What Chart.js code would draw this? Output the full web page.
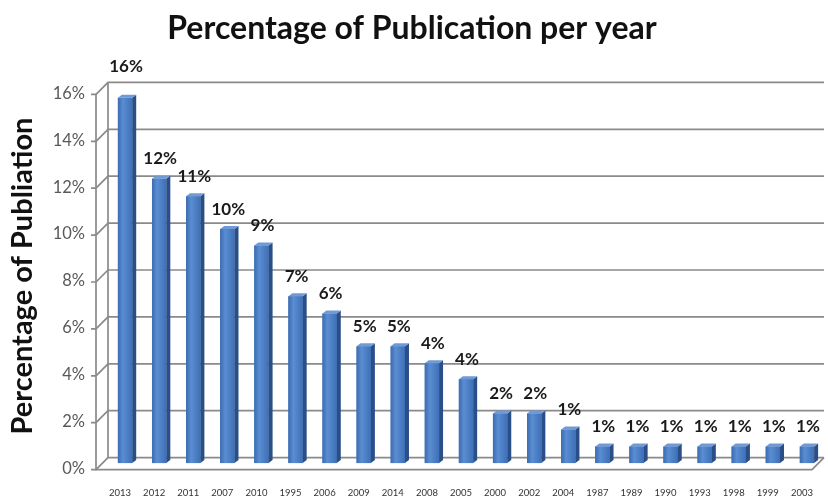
<!DOCTYPE html>
<html>
<head>
<meta charset="utf-8">
<script src="https://cdn.jsdelivr.net/npm/chart.js@4.4.1/dist/chart.umd.min.js"></script>
<style>
  html, body { margin: 0; padding: 0; background: #ffffff; }
  #wrap { width: 828px; height: 503px; }
</style>
</head>
<body>
<div id="wrap"><canvas id="pubChart" width="828" height="503"></canvas></div>
<script>
// Publication years, ordered by share of publications
const years = ['2013','2012','2011','2007','2010','1995','2006','2009','2014','2008','2005',
               '2000','2002','2004','1987','1989','1990','1993','1998','1999','2003'];
// Share of publications per year (%)
const shares = [15.6, 12.15, 11.4, 10.0, 9.3, 7.14, 6.4, 5.0, 5.0, 4.28, 3.6,
                2.14, 2.14, 1.45, 0.73, 0.73, 0.73, 0.73, 0.73, 0.73, 0.73];
// Value axis ticks (%)
const yTicks = [0, 2, 4, 6, 8, 10, 12, 14, 16];

const DEPTH_X = 12;   // perspective depth of the box walls
const DEPTH_Y = 6;

// Back walls, floor and slanted ticks of the 3-D box
const boxPlugin = {
  id: 'box3d',
  beforeDatasetsDraw(chart) {
    const { ctx, chartArea: a, scales: { y } } = chart;
    ctx.save();
    ctx.strokeStyle = '#8a8a8a';
    ctx.lineWidth = 1.7;
    const L = a.left, R = a.right;
    yTicks.forEach(v => {
      const py = y.getPixelForValue(v);
      ctx.beginPath();
      ctx.moveTo(L - DEPTH_X - 5, py + DEPTH_Y);
      ctx.lineTo(L - DEPTH_X, py + DEPTH_Y);
      ctx.lineTo(L, py - DEPTH_Y);
      ctx.lineTo(R, py - DEPTH_Y);
      ctx.stroke();
    });
    const top = y.getPixelForValue(16), base = y.getPixelForValue(0);
    ctx.beginPath();
    ctx.moveTo(L, top - DEPTH_Y); ctx.lineTo(L, base - DEPTH_Y);
    ctx.moveTo(L - DEPTH_X, top + DEPTH_Y); ctx.lineTo(L - DEPTH_X, base + DEPTH_Y);
    ctx.lineTo(R - DEPTH_X, base + DEPTH_Y); ctx.lineTo(R, base - DEPTH_Y);
    ctx.stroke();
    ctx.restore();
  }
};

// Shaded faces of the bars and their value labels
const barFacesPlugin = {
  id: 'barFaces',
  afterDatasetsDraw(chart) {
    const { ctx, chartArea: a } = chart;
    const meta = chart.getDatasetMeta(0);
    ctx.save();
    meta.data.forEach((bar, i) => {
      const { x, y, base, width } = bar.getProps(['x', 'y', 'base', 'width'], true);
      const l = x - width / 2, r = x + width / 2, d = 4, dy = 3;
      const g = ctx.createLinearGradient(l, 0, r, 0);
      g.addColorStop(0, '#3c6bb0');
      g.addColorStop(0.35, '#5a8dd2');
      g.addColorStop(1, '#3f70b7');
      ctx.fillStyle = g;
      ctx.fillRect(l, y, width, base - y);
      // right side face
      ctx.fillStyle = '#2a4f88';
      ctx.beginPath();
      ctx.moveTo(r, y); ctx.lineTo(r + d, y - dy); ctx.lineTo(r + d, base - dy); ctx.lineTo(r, base);
      ctx.closePath(); ctx.fill();
      // top face
      ctx.fillStyle = '#6f9ad6';
      ctx.beginPath();
      ctx.moveTo(l, y); ctx.lineTo(l + d, y - dy); ctx.lineTo(r + d, y - dy); ctx.lineTo(r, y);
      ctx.closePath(); ctx.fill();

      // value label, lifted above the box when the bar reaches its top
      const text = Math.round(shares[i]) + '%';
      const ly = (y - 20 < a.top) ? a.top - 22 : y - 20;
      ctx.fillStyle = '#1a1a1a';
      ctx.font = 'bold 17px Lato';
      ctx.textAlign = 'center';
      ctx.textBaseline = 'middle';
      ctx.fillText(text, x + 1, ly);
    });
    ctx.restore();
  }
};

// Invisible tick marks are used to space the tick labels away from the box
const hiddenTicks = len => ({
  display: true,
  drawOnChartArea: false,
  drawTicks: true,
  tickLength: len,
  color: 'rgba(0,0,0,0)'
});

new Chart(document.getElementById('pubChart'), {
  type: 'bar',
  data: {
    labels: years,
    datasets: [{
      data: shares,
      backgroundColor: '#4477bb',
      borderWidth: 0,
      barPercentage: 0.42,
      categoryPercentage: 1.0
    }]
  },
  options: {
    responsive: false,
    animation: false,
    layout: { padding: { left: 0, right: 4, top: 0, bottom: 4 } },
    plugins: {
      legend: { display: false },
      tooltip: { enabled: false },
      title: {
        display: true,
        text: 'Percentage of Publication per year',
        color: '#111111',
        font: { family: 'Lato', size: 32, weight: 'bold' },
        padding: { top: 9, bottom: 41 }
      }
    },
    scales: {
      x: {
        grid: hiddenTicks(24),
        border: { display: false },
        ticks: {
          color: '#333333',
          font: { family: 'Lato', size: 9.5 },
          padding: 0,
          labelOffset: -5,
          maxRotation: 0,
          autoSkip: false
        }
      },
      y: {
        min: 0,
        max: 16,
        grid: hiddenTicks(23),
        border: { display: false },
        afterFit(scale) { scale.width = 108; },
        ticks: {
          stepSize: 2,
          color: '#595959',
          font: { family: 'Lato', size: 16.5 },
          padding: 0,
          labelOffset: 5,
          callback: v => v + '%'
        },
        title: {
          display: true,
          text: 'Percentage of Publiation',
          color: '#111111',
          font: { family: 'Lato', size: 29, weight: 'bold' },
          padding: { top: 5, bottom: 0 }
        }
      }
    }
  },
  plugins: [boxPlugin, barFacesPlugin]
});
</script>
</body>
</html>
